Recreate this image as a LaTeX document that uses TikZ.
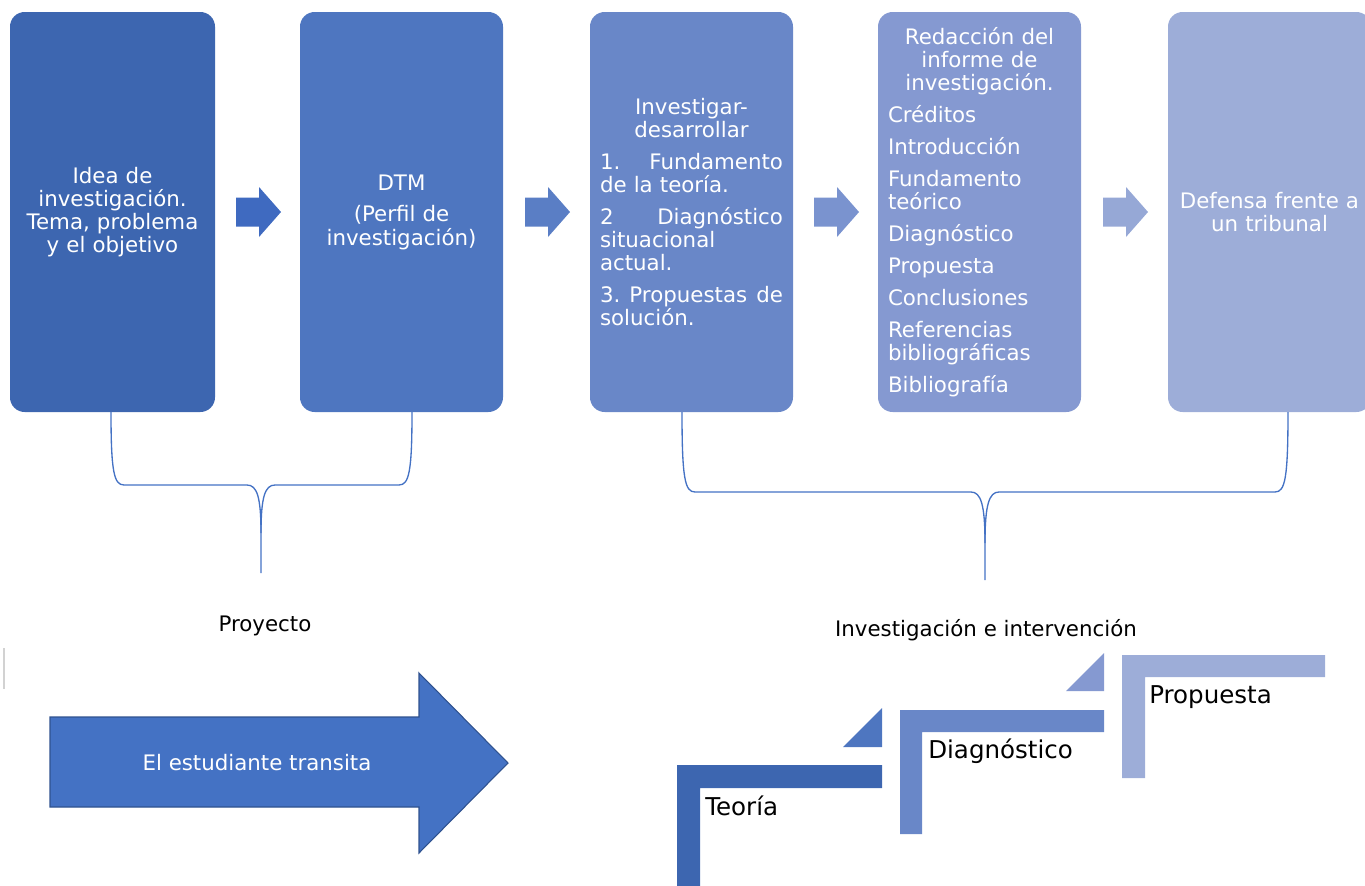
\documentclass[tikz,border=0pt]{standalone}
\usepackage{fontspec}
\setmainfont{DejaVu Sans}
\usetikzlibrary{calc}
\definecolor{bxA}{HTML}{3D66B0}
\definecolor{bxB}{HTML}{4E76C0}
\definecolor{bxC}{HTML}{6987C8}
\definecolor{bxD}{HTML}{8599D1}
\definecolor{bxE}{HTML}{9DADD8}
\definecolor{arA}{HTML}{3F6AC0}
\definecolor{arB}{HTML}{5A7EC5}
\definecolor{arC}{HTML}{7A93CF}
\definecolor{arD}{HTML}{96A8D6}
\definecolor{bigfill}{HTML}{4472C4}
\definecolor{bigline}{HTML}{2F528F}
\definecolor{brace}{HTML}{4472C4}
\begin{document}
\begin{tikzpicture}[x=0.75pt,y=-0.75pt,
  box/.style={rounded corners=11pt, minimum height=300pt, minimum width=152.25pt,
    inner xsep=0pt, inner ysep=0pt, text width=137.25pt, text=white,
    font=\fontsize{16}{17.4}\selectfont},
  chev/.pic={\path[pic actions] (-22.5,-14.5) -- (0.5,-14.5) -- (0.5,-25) -- (22.5,0)
     -- (0.5,25) -- (0.5,14.5) -- (-22.5,14.5) -- cycle;},
  bracestyle/.style={draw=brace, line width=1pt},
  lbl/.style={font=\fontsize{16}{19}\selectfont, text=black, inner sep=0pt},
  steplbl/.style={font=\fontsize{18.4}{21}\selectfont, text=black, inner sep=0pt, anchor=west}
]
\useasboundingbox (0,0) rectangle (1365,886);
\clip (0,0) rectangle (1365,886);

% boxes
\node[box, fill=bxA, align=center, minimum width=153.75pt] (b1) at (112.5,212)
  {Idea de\\ investigación.\\ Tema, problema\\ y el objetivo};
\node[box, fill=bxB, align=center] (b2) at (401.5,212)
  {DTM\\[6.5pt] (Perfil de\\ investigación)};
\node[box, fill=bxC, align=left] (b3) at (691.5,212)
  {\makebox[137.25pt]{Investigar-}\\
   \makebox[137.25pt]{desarrollar}\\[6.5pt]
   \makebox[137.25pt][l]{1.\hfill Fundamento}\\
   de la teoría.\\[6.5pt]
   \makebox[137.25pt][l]{2\hfill Diagnóstico}\\
   situacional\\
   actual.\\[6.5pt]
   \makebox[137.25pt][l]{3.\hfill Propuestas\hfill de}\\
   solución.};
\node[box, fill=bxD, align=left] (b4) at (979.5,212)
  {\makebox[137.25pt]{Redacción del}\\
   \makebox[137.25pt]{informe de}\\
   \makebox[137.25pt]{investigación.}\\[6.5pt]
   Créditos\\[6.5pt]
   Introducción\\[6.5pt]
   Fundamento\\
   teórico\\[6.5pt]
   Diagnóstico\\[6.5pt]
   Propuesta\\[6.5pt]
   Conclusiones\\[6.5pt]
   Referencias\\
   bibliográficas\\[6.5pt]
   Bibliografía};
\node[box, fill=bxE, align=center] (b5) at (1269.5,212)
  {Defensa frente a\\ un tribunal};

% chevron arrows between boxes
\pic[fill=arA] at ($(b1.east)!0.5!(b2.west)+(1,0)$) {chev};
\pic[fill=arB] at ($(b2.east)!0.5!(b3.west)+(1,0)$) {chev};
\pic[fill=arC] at ($(b3.east)!0.5!(b4.west)+(1,0)$) {chev};
\pic[fill=arD] at ($(b4.east)!0.5!(b5.west)+(1,0)$) {chev};

% left brace
\coordinate (projtip) at (261,573);
\draw[bracestyle] (111,412) .. controls (111,472) and (114,485) .. (124,485) -- (247,485)
   .. controls (257,485) and (261,497) .. (261,533) -- (projtip);
\draw[bracestyle] (412,412) .. controls (412,472) and (409,485) .. (399,485) -- (275,485)
   .. controls (265,485) and (261,497) .. (261,533);
% right brace
\coordinate (invtip) at (985,580);
\draw[bracestyle] (682,412) .. controls (682,479) and (685,492) .. (695,492) -- (971,492)
   .. controls (981,492) and (985,505) .. (985,543) -- (invtip);
\draw[bracestyle] (1288,412) .. controls (1288,479) and (1285,492) .. (1275,492) -- (999,492)
   .. controls (989,492) and (985,505) .. (985,543);

\node[lbl] (proy) at (265,626) {Proyecto};
\node[lbl] (inv) at (986,630) {Investigación e intervención};

% small grey mark
\draw[gray!35, line width=1pt] (4,648) -- (4,689);

% big arrow
\draw[fill=bigfill, draw=bigline, line width=0.8pt]
  (50,717) -- (419,717) -- (419,673) -- (508,763) -- (419,853) -- (419,807) -- (50,807) -- cycle;
\node[lbl, text=white] (est) at (257,763) {El estudiante transita};

% steps
\fill[bxA] (677,891) -- (677,765) -- (882,765) -- (882,788) -- (700,788) -- (700,891) -- cycle;
\fill[bxB] (882,708) -- (882,747) -- (843,747) -- cycle;
\fill[bxC] (900,834) -- (900,710) -- (1104,710) -- (1104,732) -- (922,732) -- (922,834) -- cycle;
\fill[bxD] (1104,653) -- (1104,691) -- (1066,691) -- cycle;
\fill[bxE] (1122,778) -- (1122,655) -- (1325,655) -- (1325,677) -- (1145,677) -- (1145,778) -- cycle;

\node[steplbl] (teo) at (705,806) {Teoría};
\node[steplbl] (dia) at (928,751) {Diagnóstico};
\node[steplbl] (pro) at (1149,697) {Propuesta};
\end{tikzpicture}
\end{document}
